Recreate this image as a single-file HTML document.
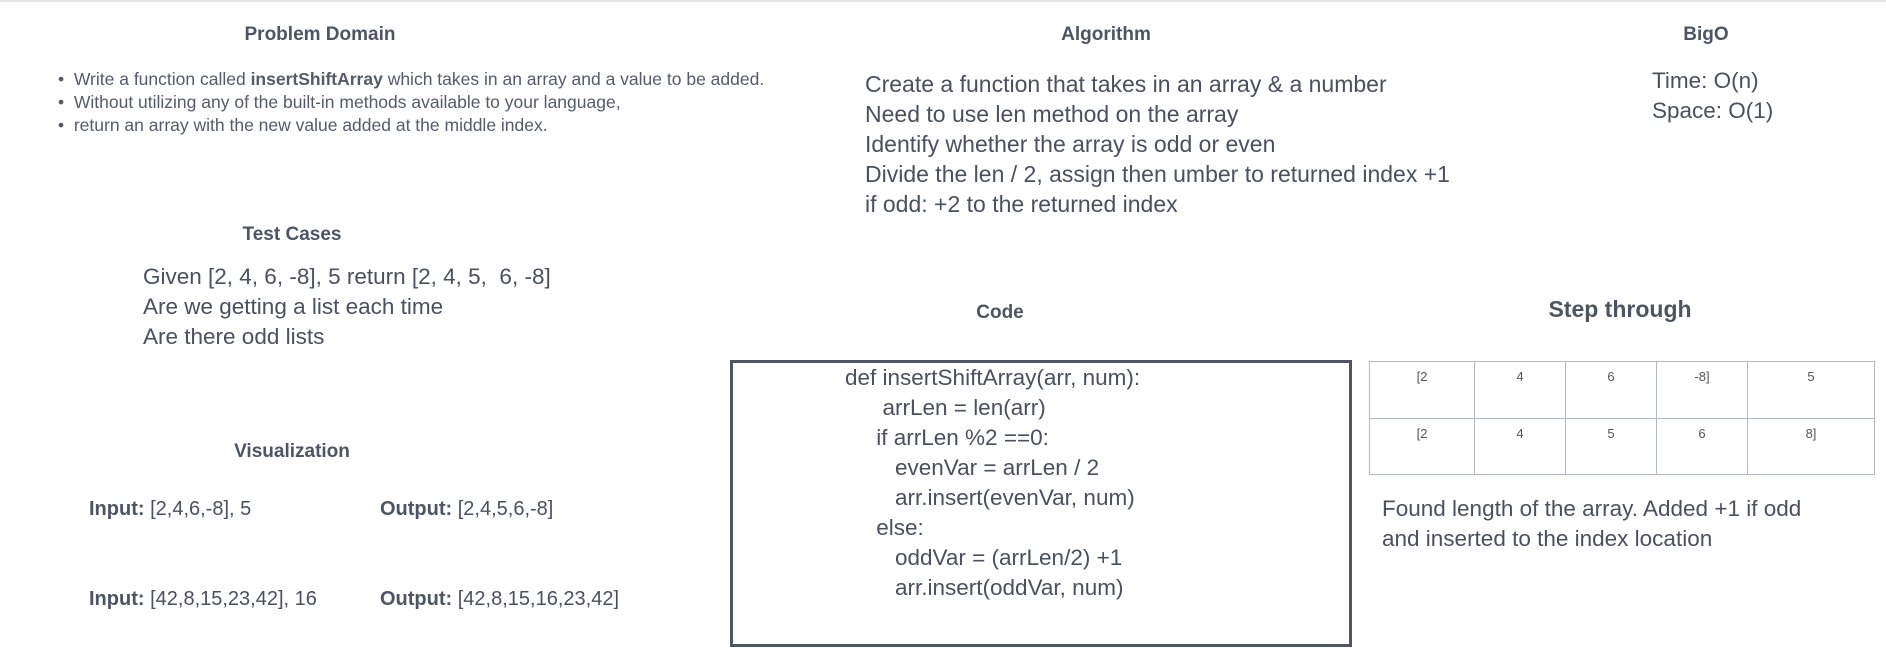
<!DOCTYPE html>
<html><head><meta charset="utf-8"><style>
*{margin:0;padding:0;box-sizing:border-box}
body{width:1886px;height:664px;background:#fff;position:relative;overflow:hidden;font-family:"Liberation Sans",sans-serif;color:#4a505e}
.a{position:absolute;white-space:nowrap}
.h{font-weight:bold;font-size:19px;color:#4d5462;transform:translateX(-50%)}
.b{font-size:17.5px;color:#555b68}
.l{font-size:22.5px;color:#4a505e}
.v{font-size:20px;color:#4a505e}
.v b{color:#4d5462}
table{position:absolute;left:1369px;top:361px;width:506px;height:114px;border-collapse:collapse}
td{border:1.5px solid #b3b8c4;font-size:13px;vertical-align:top;text-align:center;padding-top:7px;color:#555}
</style></head><body>
<div class="a" style="left:0;top:0;width:1886px;height:2px;background:#e4e6ea"></div>
<div class="a h" style="left:320px;top:24px">Problem Domain</div>
<div class="a h" style="left:1106px;top:24px">Algorithm</div>
<div class="a h" style="left:1706px;top:24px">BigO</div>
<div class="a h" style="left:292px;top:224px">Test Cases</div>
<div class="a h" style="left:292px;top:441px">Visualization</div>
<div class="a h" style="left:1000px;top:302px">Code</div>
<div class="a h" style="left:1620px;top:296px;font-size:23px">Step through</div>

<div class="a b" style="left:58px;top:69px">•&nbsp; Write a function called <b>insertShiftArray</b> which takes in an array and a value to be added.</div>
<div class="a b" style="left:58px;top:92px">•&nbsp; Without utilizing any of the built-in methods available to your language,</div>
<div class="a b" style="left:58px;top:115px">•&nbsp; return an array with the new value added at the middle index.</div>

<div class="a l" style="left:865px;top:69px;line-height:30px;font-size:23px">Create a function that takes in an array &amp; a number<br>Need to use len method on the array<br>Identify whether the array is odd or even<br>Divide the len / 2, assign then umber to returned index +1<br>if odd: +2 to the returned index</div>
<div class="a l" style="left:1652px;top:66px;line-height:30px">Time: O(n)<br>Space: O(1)</div>
<div class="a l" style="left:143px;top:262px;line-height:30px">Given [2, 4, 6, -8], 5 return [2, 4, 5,&nbsp; 6, -8]<br>Are we getting a list each time<br>Are there odd lists</div>

<div class="a v" style="left:89px;top:498px"><b>Input:</b> [2,4,6,-8], 5</div>
<div class="a v" style="left:380px;top:498px"><b>Output:</b> [2,4,5,6,-8]</div>
<div class="a v" style="left:89px;top:588px"><b>Input:</b> [42,8,15,23,42], 16</div>
<div class="a v" style="left:380px;top:588px"><b>Output:</b> [42,8,15,16,23,42]</div>

<div class="a" style="left:730px;top:360px;width:622px;height:287px;border:3px solid #4f5565"></div>
<div class="a l" style="left:845px;top:363px;line-height:30px">def insertShiftArray(arr, num):<br>&nbsp;&nbsp;&nbsp;&nbsp;&nbsp;&nbsp;arrLen = len(arr)<br>&nbsp;&nbsp;&nbsp;&nbsp;&nbsp;if arrLen %2 ==0:<br>&nbsp;&nbsp;&nbsp;&nbsp;&nbsp;&nbsp;&nbsp;&nbsp;evenVar = arrLen / 2<br>&nbsp;&nbsp;&nbsp;&nbsp;&nbsp;&nbsp;&nbsp;&nbsp;arr.insert(evenVar, num)<br>&nbsp;&nbsp;&nbsp;&nbsp;&nbsp;else:<br>&nbsp;&nbsp;&nbsp;&nbsp;&nbsp;&nbsp;&nbsp;&nbsp;oddVar = (arrLen/2) +1<br>&nbsp;&nbsp;&nbsp;&nbsp;&nbsp;&nbsp;&nbsp;&nbsp;arr.insert(oddVar, num)</div>

<table>
<tr><td style="width:105px">[2</td><td style="width:91px">4</td><td style="width:91px">6</td><td style="width:91px">-8]</td><td>5</td></tr>
<tr><td>[2</td><td>4</td><td>5</td><td>6</td><td>8]</td></tr>
</table>
<div class="a l" style="left:1382px;top:494px;line-height:30px">Found length of the array. Added +1 if odd<br>and inserted to the index location</div>
</body></html>
